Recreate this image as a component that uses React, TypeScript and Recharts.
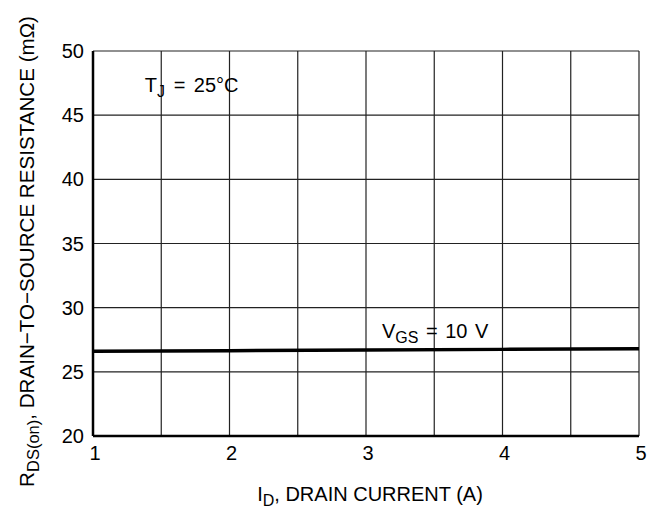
import { CartesianGrid, Line, LineChart, ReferenceDot, XAxis, YAxis } from "recharts";

const current = [1, 2, 3, 4, 5];
const resistance = [26.6, 26.65, 26.7, 26.75, 26.8];
const xTicks = [1, 1.5, 2, 2.5, 3, 3.5, 4, 4.5, 5];
const yTicks = [20, 25, 30, 35, 40, 45, 50];

const data = current.map((id, i) => ({ id, r: resistance[i] }));

const font = "'Liberation Sans', Arial, Helvetica, sans-serif";
const fs = 20;

function SubText({ x, y, main, sub, rest, anchor = "start", rotate = false, size = fs, subSize = 16, wordSpacing = 0 }: any) {
  return (
    <text
      x={x}
      y={y}
      textAnchor={anchor}
      fontFamily={font}
      fontSize={size}
      fill="#000"
      style={{ wordSpacing }}
      transform={rotate ? `rotate(-90, ${x}, ${y})` : undefined}
    >
      {main}
      <tspan dy={5} fontSize={subSize}>{sub}</tspan>
      <tspan dy={-5}>{rest}</tspan>
    </text>
  );
}

export default function App() {
  return (
    <div style={{ position: "absolute", left: 0, top: 0, background: "#fff" }}>
      <LineChart width={663} height={510} data={data} margin={{ top: 51, right: 24, bottom: 0, left: 0 }}>
        <CartesianGrid stroke="#222" strokeWidth={1.2} />
        <XAxis
          dataKey="id"
          type="number"
          domain={[1, 5]}
          ticks={xTicks}
          interval={0}
          height={74}
          tickLine={false}
          tickSize={6}
          tickMargin={4}
          stroke="#000"
          strokeWidth={2.5}
          tick={{ fill: "#000", fontSize: fs, fontFamily: font, dx: 2 }}
          tickFormatter={(v: number) => (Number.isInteger(v) ? String(v) : "")}
          label={{
            content: ({ viewBox }: any) => (
              <SubText x={viewBox.x + viewBox.width / 2 + 4} y={viewBox.y + 65} main="I" sub="D" rest=", DRAIN CURRENT (A)" anchor="middle" />
            ),
          }}
        />
        <YAxis
          type="number"
          domain={[20, 50]}
          ticks={yTicks}
          interval={0}
          width={93}
          tickLine={false}
          tickSize={6}
          tickMargin={3}
          stroke="#000"
          strokeWidth={2.5}
          tick={{ fill: "#000", fontSize: fs, fontFamily: font, dy: "0.48em" }}
          label={{
            content: ({ viewBox }: any) => (
              <SubText
                x={34}
                y={viewBox.y + viewBox.height / 2 + 8}
                main="R"
                sub="DS(on)"
                rest=", DRAIN−TO−SOURCE RESISTANCE (mΩ)"
                anchor="middle"
                size={20.6}
                subSize={16.5}
                rotate
              />
            ),
          }}
        />
        <Line
          dataKey="r"
          type="linear"
          stroke="#000"
          strokeWidth={3.5}
          dot={false}
          activeDot={false}
          isAnimationActive={false}
        />
        <ReferenceDot
          x={1.38}
          y={46.8}
          r={0.01}
          fill="none"
          stroke="none"
          label={{ content: ({ viewBox }: any) => <SubText x={viewBox.x} y={viewBox.y} main="T" sub="J" rest=" = 25°C" wordSpacing={3} /> }}
        />
        <ReferenceDot
          x={3.117}
          y={27.63}
          r={0.01}
          fill="none"
          stroke="none"
          label={{ content: ({ viewBox }: any) => <SubText x={viewBox.x} y={viewBox.y} main="V" sub="GS" rest=" = 10 V" wordSpacing={2} /> }}
        />
      </LineChart>
    </div>
  );
}
